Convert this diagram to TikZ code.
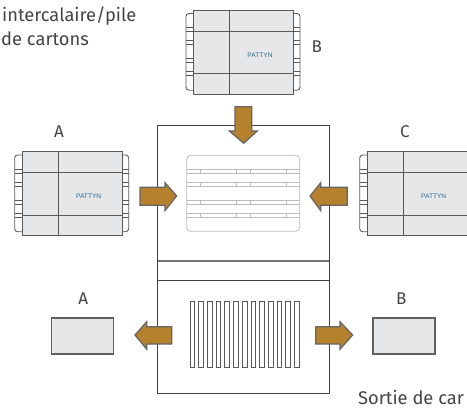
\documentclass[tikz,border=0pt]{standalone}
\usepackage{fontspec}
\setmainfont{Fira Sans}
\newfontfamily\logofont{Liberation Sans}
\definecolor{boxfill}{HTML}{E6E7E8}
\definecolor{arrowfill}{HTML}{B5812C}
\definecolor{arrowedge}{HTML}{666666}
\definecolor{palletline}{HTML}{BBBBBB}
\definecolor{logoblue}{HTML}{2B6A94}
\definecolor{textgrey}{HTML}{444444}
\tikzset{
  x=1pt,y=-1pt,
  cartonline/.style={draw=black!65,line width=0.9pt},
  machine/.style={draw=black!75,line width=0.9pt},
  blockarrow/.style={fill=arrowfill,draw=arrowedge,line width=1.2pt,line join=miter},
  label/.style={font=\fontsize{17}{19}\selectfont,text=textgrey,inner sep=0pt},
  caption/.style={font=\fontsize{18.3}{24}\selectfont,text=textgrey,inner sep=0pt},
  logo/.style={font=\logofont\fontsize{6.6}{7}\selectfont,text=logoblue,inner sep=0pt},
  outbox/.style={fill=boxfill,draw=black!62,line width=1.8pt},
  fin/.style={draw=black!65,line width=0.9pt,fill=white},
  pallet/.style={draw=palletline,line width=0.8pt},
  cartonstack/.pic={
    \draw[cartonline,rounded corners=3pt] (0,3.5) -- (-7.3,3.5) -- (-7.3,80.2) -- (0,80.2);
    \draw[cartonline,rounded corners=3pt] (100,3.5) -- (106.7,3.5) -- (106.7,80.2) -- (100,80.2);
    \foreach \s in {17.8,21.8,30.8,34.5,48.5,52.5,61.8,65.8}{
      \draw[cartonline] (-7.3,\s) -- (0,\s);
      \draw[cartonline] (100,\s) -- (106.7,\s);
    }
    \fill[boxfill] (0,0) rectangle (100,84);
    \draw[cartonline,line width=1pt] (0,0) rectangle (100,84);
    \draw[cartonline,line width=1pt] (36,0) -- (36,84);
    \draw[cartonline,line width=1pt] (0,21) -- (100,21);
    \draw[cartonline,line width=1pt] (0,63.5) -- (100,63.5);
    \node[logo] at (66.7,45) {PATTYN};
  }
}
\begin{document}
\begin{tikzpicture}
\useasboundingbox (0,0) rectangle (467,408);
\clip (0,0) rectangle (467,408);

% machine
\draw[machine] (157.7,125.3) rectangle (329.3,393.3);
\draw[draw=black!55,line width=1.3pt] (157.7,261) -- (329.3,261);
\draw[machine] (157.7,280) -- (329.3,280);

% pallet
\draw[pallet,rounded corners=4pt] (186.7,155.3) rectangle (299.7,231.3);
\foreach \s in {169.3,173.3,182.7,186.7,200.3,204.3,213.7,217.7}{
  \draw[pallet] (186.7,\s) -- (299.7,\s);
}
\foreach \s in {200.7,236.7,250,286}{
  \foreach \t in {169.3,182.7,200.3,213.7}{
    \draw[pallet] (\s,\t) -- (\s,\t+4);
  }
}

% separating fins
\foreach \i in {0,...,12}{
  \draw[fin] (190+\i*8.72,301) rectangle (194.7+\i*8.72,367.3);
}

% carton stacks
\pic at (22,151.5) {cartonstack};
\pic at (193.3,10) {cartonstack};
\pic at (367,151.5) {cartonstack};

% output boxes
\node[outbox,minimum width=62pt,minimum height=35.5pt,inner sep=0pt] (outA) at (82.5,336) {};
\node[outbox,minimum width=62pt,minimum height=35.5pt,inner sep=0pt] (outB) at (404.2,336) {};

% arrows
\draw[blockarrow] (235,106.7) -- (251.7,106.7) -- (251.7,131) -- (257.3,131) -- (243.7,143.3) -- (229.3,131) -- (235,131) -- cycle;
\draw[blockarrow] (140,187.3) -- (165,187.3) -- (165,182.7) -- (176.7,196) -- (165,210.7) -- (165,205.3) -- (140,205.3) -- cycle;
\draw[blockarrow] (347.3,187.3) -- (320.7,187.3) -- (320.7,182.7) -- (310,196) -- (320.7,210.7) -- (320.7,205.3) -- (347.3,205.3) -- cycle;
\draw[blockarrow] (171.7,326.7) -- (146.7,326.7) -- (146.7,321.7) -- (135,335) -- (146.7,349.3) -- (146.7,344) -- (171.7,344) -- cycle;
\draw[blockarrow] (315.7,326.7) -- (340,326.7) -- (340,321.7) -- (352.7,335) -- (340,349.3) -- (340,344) -- (315.7,344) -- cycle;

% labels
\node[label] (lA) at (59,132) {A};
\node[label] (lB) at (316.7,47) {B};
\node[label] (lC) at (405,132) {C};
\node[label] (lAo) at (83.3,299) {A};
\node[label] (lBo) at (401.3,299) {B};
\node[caption,anchor=base west] (capin) at (2,21) {intercalaire/pile};
\node[caption,anchor=base west] (capinb) at (1,45) {de cartons};
\node[caption,anchor=base west] (capout) at (358,404.5) {Sortie de car};
\end{tikzpicture}
\end{document}
